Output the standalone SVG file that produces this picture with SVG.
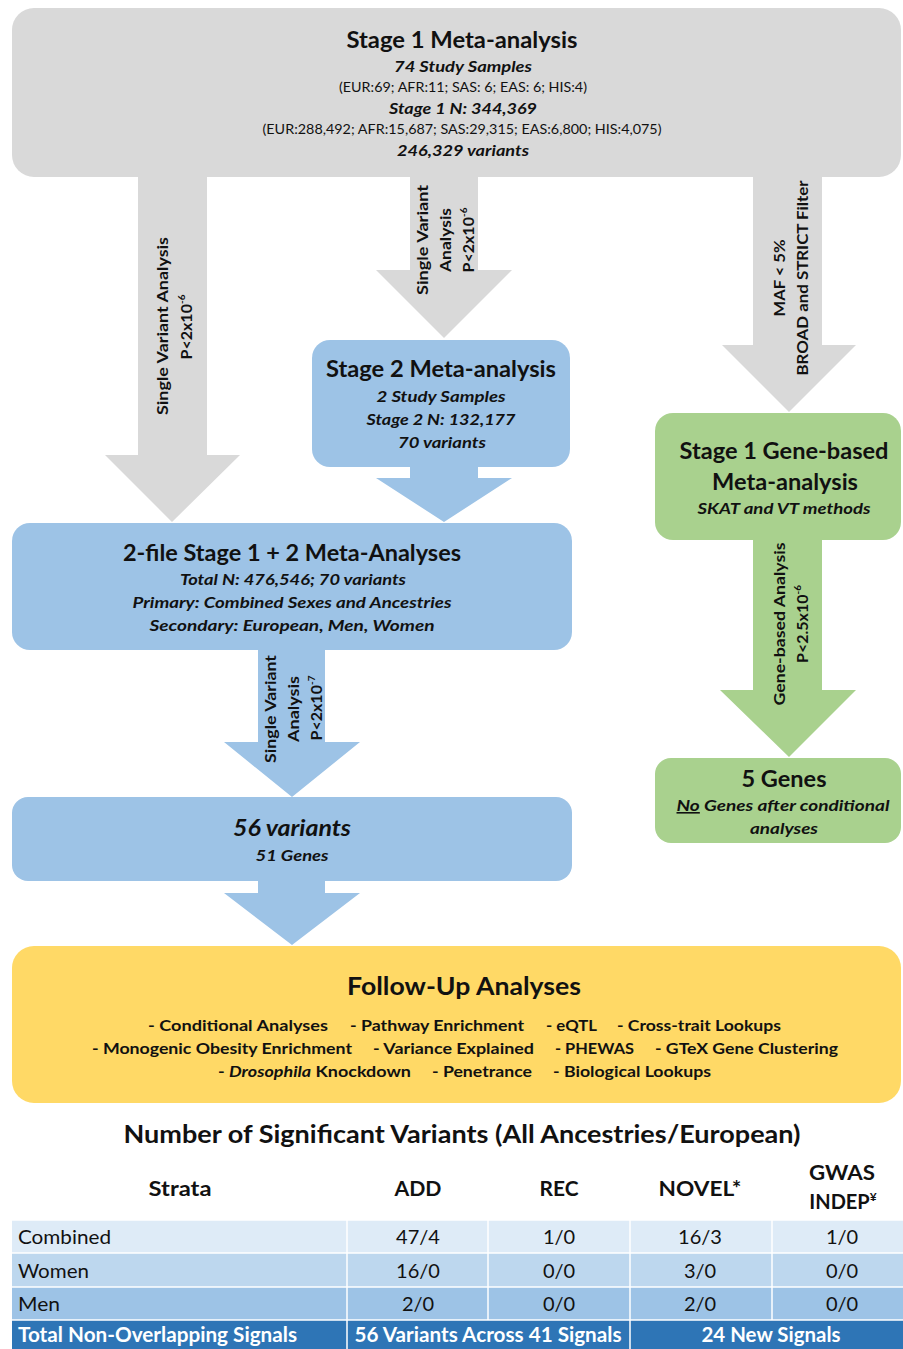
<svg xmlns="http://www.w3.org/2000/svg" width="903" height="1349" viewBox="0 0 903 1349">
<style>
text{font-family:Lato,"Open Sans","Liberation Sans",sans-serif;fill:#111;text-anchor:middle}
.t{font-size:23px;font-weight:700}
.bi{font-size:16px;font-weight:700;font-style:italic}
.sm{font-size:13px}
.al{font-size:16px;font-weight:700}
.fu{font-size:16px;font-weight:700}
.tb{font-size:20px}
.tbh{font-size:20px;font-weight:700}
.tot{font-size:20px;font-weight:700;fill:#fff}
.gray{fill:#d9d9d9}
.blue{fill:#9dc3e6}
.green{fill:#a9d18e}
.yellow{fill:#ffd966}
</style>
<rect width="903" height="1349" fill="#fff"/>
<g id="connectors">
  <polygon class="gray" points="138,170 207,170 207,455 240,455 172,522 105,455 138,455"/>
  <polygon class="gray" points="410,170 478,170 478,270 512,270 444,338 376,270 410,270"/>
  <polygon class="gray" points="753,170 822,170 822,345 856,345 789,412 722,345 753,345"/>
  <polygon class="blue" points="410,460 478,460 478,478 512,478 444,522 376,478 410,478"/>
  <polygon class="blue" points="258,645 325,645 325,742 360,742 292,797 224,742 258,742"/>
  <polygon class="blue" points="258,875 325,875 325,893 360,893 292,945 224,893 258,893"/>
  <polygon class="green" points="753,535 822,535 822,690 856,690 789,757 720,690 753,690"/>
  <g transform="translate(168,326) rotate(-90)"><text class="al" textLength="178" lengthAdjust="spacingAndGlyphs">Single Variant Analysis</text></g>
  <g transform="translate(192,327) rotate(-90)"><text class="al">P&lt;2x10<tspan font-size="10" dy="-7">-6</tspan></text></g>
  <g transform="translate(428,240) rotate(-90)"><text class="al" textLength="110" lengthAdjust="spacingAndGlyphs">Single Variant</text></g>
  <g transform="translate(451,240) rotate(-90)"><text class="al" textLength="64" lengthAdjust="spacingAndGlyphs">Analysis</text></g>
  <g transform="translate(474,240) rotate(-90)"><text class="al">P&lt;2x10<tspan font-size="10" dy="-7">-6</tspan></text></g>
  <g transform="translate(785,278) rotate(-90)"><text class="al" textLength="77" lengthAdjust="spacingAndGlyphs">MAF &lt; 5%</text></g>
  <g transform="translate(808,278) rotate(-90)"><text class="al" textLength="195" lengthAdjust="spacingAndGlyphs">BROAD and STRICT Filter</text></g>
  <g transform="translate(785,624) rotate(-90)"><text class="al" textLength="163" lengthAdjust="spacingAndGlyphs">Gene-based Analysis</text></g>
  <g transform="translate(808,624) rotate(-90)"><text class="al">P&lt;2.5x10<tspan font-size="10" dy="-7">-6</tspan></text></g>
  <g transform="translate(276,709) rotate(-90)"><text class="al" textLength="108" lengthAdjust="spacingAndGlyphs">Single Variant</text></g>
  <g transform="translate(299,709) rotate(-90)"><text class="al" textLength="66" lengthAdjust="spacingAndGlyphs">Analysis</text></g>
  <g transform="translate(322,708) rotate(-90)"><text class="al">P&lt;2x10<tspan font-size="10" dy="-7">-7</tspan></text></g>
</g>
<g id="stage1">
  <rect class="gray" x="12" y="8" width="889" height="169" rx="22"/>
  <text class="t" x="462" y="48" textLength="231" lengthAdjust="spacingAndGlyphs">Stage 1 Meta-analysis</text>
  <text class="bi" x="463" y="72" textLength="138" lengthAdjust="spacingAndGlyphs">74 Study Samples</text>
  <text class="sm" x="463" y="92" textLength="248" lengthAdjust="spacingAndGlyphs">(EUR:69; AFR:11; SAS: 6; EAS: 6; HIS:4)</text>
  <text class="bi" x="463" y="114" textLength="148" lengthAdjust="spacingAndGlyphs">Stage 1 N: 344,369</text>
  <text class="sm" x="462" y="134" textLength="399" lengthAdjust="spacingAndGlyphs">(EUR:288,492; AFR:15,687; SAS:29,315; EAS:6,800; HIS:4,075)</text>
  <text class="bi" x="463" y="156" textLength="132" lengthAdjust="spacingAndGlyphs">246,329 variants</text>
</g>
<g id="stage2">
  <rect class="blue" x="312" y="340" width="258" height="127" rx="18"/>
  <text class="t" x="441" y="377" textLength="230" lengthAdjust="spacingAndGlyphs">Stage 2 Meta-analysis</text>
  <text class="bi" x="441" y="402" textLength="129" lengthAdjust="spacingAndGlyphs">2 Study Samples</text>
  <text class="bi" x="441" y="425" textLength="149" lengthAdjust="spacingAndGlyphs">Stage 2 N: 132,177</text>
  <text class="bi" x="442" y="448" textLength="88" lengthAdjust="spacingAndGlyphs">70 variants</text>
</g>
<g id="combined">
  <rect class="blue" x="12" y="523" width="560" height="127" rx="18"/>
  <text class="t" x="292" y="561" textLength="338" lengthAdjust="spacingAndGlyphs">2-file Stage 1 + 2 Meta-Analyses</text>
  <text class="bi" x="293" y="585" textLength="226" lengthAdjust="spacingAndGlyphs">Total N: 476,546; 70 variants</text>
  <text class="bi" x="292" y="608" textLength="319" lengthAdjust="spacingAndGlyphs">Primary: Combined Sexes and Ancestries</text>
  <text class="bi" x="292" y="631" textLength="285" lengthAdjust="spacingAndGlyphs">Secondary: European, Men, Women</text>
</g>
<g id="variants56">
  <rect class="blue" x="12" y="797" width="560" height="84" rx="16"/>
  <text class="t" x="292" y="836" font-style="italic" textLength="118" lengthAdjust="spacingAndGlyphs">56 variants</text>
  <text class="bi" x="292" y="861" textLength="73" lengthAdjust="spacingAndGlyphs">51 Genes</text>
</g>
<g id="genebased">
  <rect class="green" x="655" y="413" width="246" height="127" rx="18"/>
  <text class="t" x="784" y="459" textLength="209" lengthAdjust="spacingAndGlyphs">Stage 1 Gene-based</text>
  <text class="t" x="785" y="490" textLength="146" lengthAdjust="spacingAndGlyphs">Meta-analysis</text>
  <text class="bi" x="784" y="514" textLength="173" lengthAdjust="spacingAndGlyphs">SKAT and VT methods</text>
</g>
<g id="genes5">
  <rect class="green" x="655" y="758" width="246" height="85" rx="16"/>
  <text class="t" x="784" y="787" textLength="85" lengthAdjust="spacingAndGlyphs">5 Genes</text>
  <text class="bi" x="783" y="811" textLength="213" lengthAdjust="spacingAndGlyphs"><tspan text-decoration="underline">No</tspan> Genes after conditional</text>
  <text class="bi" x="784" y="834" textLength="68" lengthAdjust="spacingAndGlyphs">analyses</text>
</g>
<g id="followup">
  <rect class="yellow" x="12" y="946" width="889" height="157" rx="22"/>
  <text x="464" y="995" font-size="24" font-weight="700" textLength="234" lengthAdjust="spacingAndGlyphs">Follow-Up Analyses</text>
  <text class="fu" x="238" y="1031" textLength="180" lengthAdjust="spacingAndGlyphs">-  Conditional Analyses</text>
  <text class="fu" x="437" y="1031" textLength="174" lengthAdjust="spacingAndGlyphs">- Pathway Enrichment</text>
  <text class="fu" x="571.5" y="1031" textLength="51" lengthAdjust="spacingAndGlyphs">- eQTL</text>
  <text class="fu" x="699" y="1031" textLength="164" lengthAdjust="spacingAndGlyphs">- Cross-trait Lookups</text>
  <text class="fu" x="222" y="1054" textLength="260" lengthAdjust="spacingAndGlyphs">- Monogenic Obesity Enrichment</text>
  <text class="fu" x="453.5" y="1054" textLength="161" lengthAdjust="spacingAndGlyphs">- Variance Explained</text>
  <text class="fu" x="594.5" y="1054" textLength="79" lengthAdjust="spacingAndGlyphs">- PHEWAS</text>
  <text class="fu" x="746.5" y="1054" textLength="183" lengthAdjust="spacingAndGlyphs">- GTeX Gene Clustering</text>
  <text class="fu" x="314.5" y="1077" textLength="193" lengthAdjust="spacingAndGlyphs">- <tspan font-style="italic">Drosophila</tspan> Knockdown</text>
  <text class="fu" x="482" y="1077" textLength="100" lengthAdjust="spacingAndGlyphs">- Penetrance</text>
  <text class="fu" x="632" y="1077" textLength="158" lengthAdjust="spacingAndGlyphs">- Biological Lookups</text>
</g>
<g id="table">
  <text x="462" y="1143" font-size="24" font-weight="700" textLength="677" lengthAdjust="spacingAndGlyphs">Number of Significant Variants (All Ancestries/European)</text>
  <text class="tbh" x="180" y="1196" textLength="63" lengthAdjust="spacingAndGlyphs">Strata</text>
  <text class="tbh" x="418" y="1196" textLength="47" lengthAdjust="spacingAndGlyphs">ADD</text>
  <text class="tbh" x="559" y="1196" textLength="39" lengthAdjust="spacingAndGlyphs">REC</text>
  <text class="tbh" x="700" y="1196" textLength="83" lengthAdjust="spacingAndGlyphs">NOVEL*</text>
  <text class="tbh" x="842" y="1180" textLength="66" lengthAdjust="spacingAndGlyphs">GWAS</text>
  <text class="tbh" x="843" y="1209">INDEP<tspan font-size="12" dy="-8">¥</tspan></text>
  <rect x="12" y="1220" width="891" height="33" fill="#deebf7"/>
  <rect x="12" y="1253" width="891" height="34" fill="#bdd7ee"/>
  <rect x="12" y="1287" width="891" height="33" fill="#9dc3e6"/>
  <rect x="12" y="1320" width="891" height="29" fill="#2e75b6"/>
  <g stroke="#fff" stroke-width="1.5">
    <line x1="12" y1="1220" x2="903" y2="1220"/>
    <line x1="12" y1="1253" x2="903" y2="1253"/>
    <line x1="12" y1="1287" x2="903" y2="1287"/>
    <line x1="12" y1="1320" x2="903" y2="1320"/>
    <line x1="347" y1="1220" x2="347" y2="1320"/>
    <line x1="488" y1="1220" x2="488" y2="1320"/>
    <line x1="630" y1="1220" x2="630" y2="1320"/>
    <line x1="772" y1="1220" x2="772" y2="1320"/>
    <line x1="347" y1="1320" x2="347" y2="1349"/>
    <line x1="630" y1="1320" x2="630" y2="1349"/>
  </g>
  <text class="tb" x="18" y="1244" text-anchor="start" style="text-anchor:start" textLength="93" lengthAdjust="spacingAndGlyphs">Combined</text>
  <text class="tb" x="418" y="1244">47/4</text>
  <text class="tb" x="559" y="1244">1/0</text>
  <text class="tb" x="700" y="1244">16/3</text>
  <text class="tb" x="842" y="1244">1/0</text>
  <text class="tb" x="18" y="1278" style="text-anchor:start" textLength="71" lengthAdjust="spacingAndGlyphs">Women</text>
  <text class="tb" x="418" y="1278">16/0</text>
  <text class="tb" x="559" y="1278">0/0</text>
  <text class="tb" x="700" y="1278">3/0</text>
  <text class="tb" x="842" y="1278">0/0</text>
  <text class="tb" x="18" y="1311" style="text-anchor:start" textLength="42" lengthAdjust="spacingAndGlyphs">Men</text>
  <text class="tb" x="418" y="1311">2/0</text>
  <text class="tb" x="559" y="1311">0/0</text>
  <text class="tb" x="700" y="1311">2/0</text>
  <text class="tb" x="842" y="1311">0/0</text>
  <text class="tot" x="18" y="1342" style="text-anchor:start" textLength="279" lengthAdjust="spacingAndGlyphs">Total Non-Overlapping Signals</text>
  <text class="tot" x="488" y="1342" textLength="267" lengthAdjust="spacingAndGlyphs">56 Variants Across 41 Signals</text>
  <text class="tot" x="771" y="1342" textLength="139" lengthAdjust="spacingAndGlyphs">24 New Signals</text>
</g>
</svg>
